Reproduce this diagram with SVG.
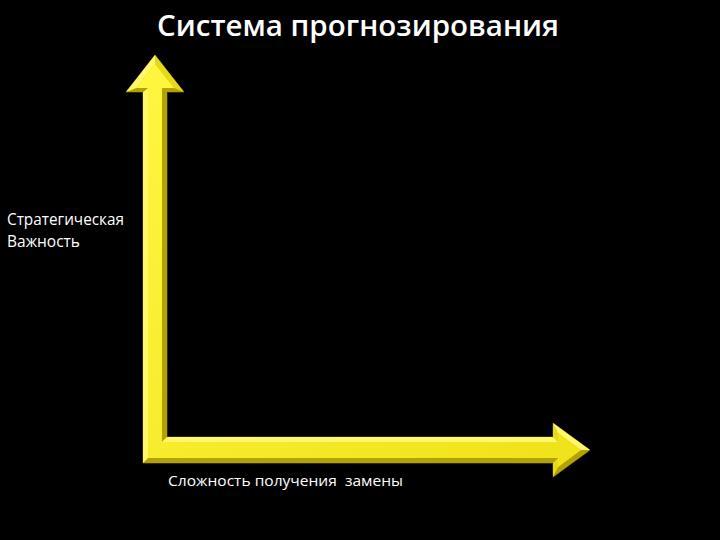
<svg xmlns="http://www.w3.org/2000/svg" width="720" height="540" viewBox="0 0 720 540">
<defs>
<style>
.t{font-family:"Open Sans","Liberation Sans",sans-serif;fill:#ffffff}
.lt{fill:#fff96a}
.md{fill:#e6d81a}
.dk{fill:#b3a300}
</style>
<linearGradient id="face" x1="0" y1="0" x2="1" y2="1">
<stop offset="0" stop-color="#fff640"/>
<stop offset="1" stop-color="#efe21a"/>
</linearGradient>
</defs>
<rect width="720" height="540" fill="#000"/>
<g id="title"><text class="t" x="358" y="36" text-anchor="middle" font-size="29" font-weight="600" textLength="402" lengthAdjust="spacingAndGlyphs">Система прогнозирования</text></g>
<g id="connectors">
<polygon points="155,55 184,92 167,92 167,437 553,437 553,423 590,450 553,477 553,463 143,463 143,92 126,92" fill="#d4c600" stroke="#5a5000" stroke-width="1"/>
<polygon class="md" points="155,55 184,92 174,88 155,64"/>
<polygon class="dk" points="184,92 167,92 162,88 174,88"/>
<polygon class="dk" points="167,92 167,437 162,442 162,88"/>
<polygon class="lt" points="167,437 553,437 558,442 162,442"/>
<polygon class="md" points="553,437 553,423 558,433 558,442"/>
<polygon class="lt" points="553,423 590,450 581,450 558,433"/>
<polygon class="dk" points="590,450 553,477 558,467 581,450"/>
<polygon class="md" points="553,477 553,463 558,458 558,467"/>
<polygon class="dk" points="553,463 143,463 148,458 558,458"/>
<polygon class="lt" points="143,463 143,92 148,88 148,458"/>
<polygon class="dk" points="143,92 126,92 136,88 148,88"/>
<polygon class="lt" points="126,92 155,55 155,64 136,88"/>
<polygon points="155,64 174,88 162,88 162,442 558,442 558,433 581,450 558,467 558,458 148,458 148,88 136,88" fill="url(#face)"/>
</g>
<g id="y-label"><text class="t" x="7" y="225" font-size="15.5" textLength="117" lengthAdjust="spacingAndGlyphs">Стратегическая</text><text class="t" x="7" y="247" font-size="15.5">Важность</text></g>
<g id="x-label"><text class="t" x="168" y="486" font-size="15" textLength="235" lengthAdjust="spacingAndGlyphs" xml:space="preserve">Сложность получения  замены</text></g>
</svg>
